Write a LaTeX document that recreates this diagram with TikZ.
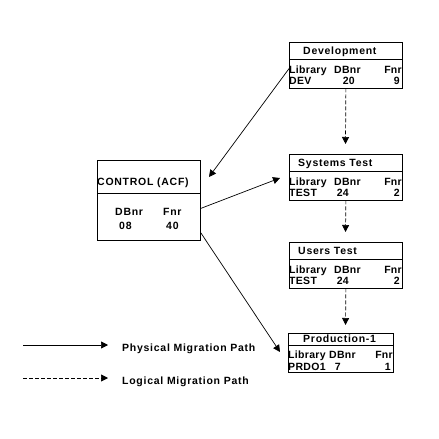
\documentclass[tikz,border=0pt]{standalone}
\usepackage{fontspec}
\setmainfont{Liberation Sans}[LetterSpace=7]
\newfontfamily\rowfont{Liberation Sans}[LetterSpace=3]
\usetikzlibrary{arrows.meta}
\tikzset{
  boxpart/.style={draw, line width=0.8pt, inner sep=0pt, anchor=north west},
  txt/.style={inner sep=0pt, anchor=base west},
  txtr/.style={inner sep=0pt, anchor=base east},
  rtxt/.style={txt, font=\rowfont\bfseries\fontsize{10.5}{12}\selectfont},
  rtxtr/.style={txtr, font=\rowfont\bfseries\fontsize{10.5}{12}\selectfont},
  phys/.style={line width=0.7pt, -{Triangle[length=7pt,width=7pt]}},
  logi/.style={phys, dash pattern=on 4pt off 2pt},
}
\begin{document}
\begin{tikzpicture}[x=1pt,y=-1pt,font=\bfseries\fontsize{10.5}{12}\selectfont]
\useasboundingbox[fill=white] (0,0) rectangle (439,439);

% Development
\node[boxpart, minimum width=113pt, minimum height=17pt] (devH) at (289,42) {};
\node[boxpart, minimum width=113pt, minimum height=28.5pt] (devB) at (289,59) {};
\node[txt] (devT) at (303,54.6) {Development};
\node[rtxt] (devL1) at (289,73.6) {Library};
\node[rtxt] (devD1) at (334,73.6) {DBnr};
\node[rtxtr] (devF1) at (402,73.6) {Fnr};
\node[rtxt] (devL2) at (289,84.6) {DEV};
\node[rtxtr] (devD2) at (355,84.6) {20};
\node[rtxtr] (devF2) at (400,84.6) {9};

% Systems Test
\node[boxpart, minimum width=113pt, minimum height=17pt] (sysH) at (289,154) {};
\node[boxpart, minimum width=113pt, minimum height=28.5pt] (sysB) at (289,171) {};
\node[txt] (sysT) at (298,166) {Systems Test};
\node[rtxt] (sysL1) at (289,185.6) {Library};
\node[rtxt] (sysD1) at (334,185.6) {DBnr};
\node[rtxtr] (sysF1) at (402,185.6) {Fnr};
\node[rtxt] (sysL2) at (289,196.6) {TEST};
\node[rtxtr] (sysD2) at (349,196.6) {24};
\node[rtxtr] (sysF2) at (400,196.6) {2};

% Users Test
\node[boxpart, minimum width=113pt, minimum height=17pt] (usrH) at (289,242) {};
\node[boxpart, minimum width=113pt, minimum height=28.5pt] (usrB) at (289,259) {};
\node[txt] (usrT) at (298,254) {Users Test};
\node[rtxt] (usrL1) at (289,273.6) {Library};
\node[rtxt] (usrD1) at (334,273.6) {DBnr};
\node[rtxtr] (usrF1) at (402,273.6) {Fnr};
\node[rtxt] (usrL2) at (289,284.6) {TEST};
\node[rtxtr] (usrD2) at (349,284.6) {24};
\node[rtxtr] (usrF2) at (400,284.6) {2};

% Production-1
\node[boxpart, minimum width=105pt, minimum height=12pt] (prdH) at (288,333) {};
\node[boxpart, minimum width=105pt, minimum height=27pt] (prdB) at (288,345) {};
\node[txt] (prdT) at (303,342) {Production-1};
\node[rtxt] (prdL1) at (288,358.6) {Library};
\node[rtxt] (prdD1) at (329,358.6) {DBnr};
\node[rtxtr] (prdF1) at (393,358.6) {Fnr};
\node[rtxt] (prdL2) at (288,370.3) {PRDO1};
\node[rtxtr] (prdD2) at (341,370.3) {7};
\node[rtxtr] (prdF2) at (391,370.3) {1};

% CONTROL (ACF)
\node[boxpart, minimum width=103pt, minimum height=33pt] (ctrlH) at (97,160) {};
\node[boxpart, minimum width=103pt, minimum height=47pt] (ctrlB) at (97,193) {};
\node[txt] (ctrlT) at (97,185.3) {CONTROL (ACF)};
\node[txt] (ctrlD1) at (115,215.3) {DBnr};
\node[txt] (ctrlF1) at (163,215.3) {Fnr};
\node[txt] (ctrlD2) at (119,229.6) {08};
\node[txt] (ctrlF2) at (166,229.6) {40};

% connector end points
\coordinate (ctrlIn) at (209,177);
\coordinate (sysIn) at (280,178);
\coordinate (prdIn) at (280,352);
\coordinate (sysTop) at (345.5,144);
\coordinate (usrTop) at (345.5,232);
\coordinate (prdTop) at (345.5,325);

% physical migration paths
\draw[phys] ([yshift=5pt]devB.west) -- (ctrlIn);
\draw[phys] ([yshift=8.5pt]ctrlB.east) -- (sysIn);
\draw[phys] ([yshift=8pt]ctrlB.south east) -- (prdIn);

% logical migration paths
\draw[logi] (devB.south) -- (sysTop);
\draw[logi] (sysB.south) -- (usrTop);
\draw[logi] (usrB.south) -- (prdTop);

% legend
\coordinate (l1a) at (23,345);
\coordinate (l1b) at (108,345);
\coordinate (l2a) at (23,378);
\coordinate (l2b) at (108,378);
\draw[phys] (l1a) -- (l1b);
\draw[logi] (l2a) -- (l2b);
\node[txt] (leg1) at (122,351.6) {Physical Migration Path};
\node[txt] (leg2) at (122,384.6) {Logical Migration Path};
\end{tikzpicture}
\end{document}
